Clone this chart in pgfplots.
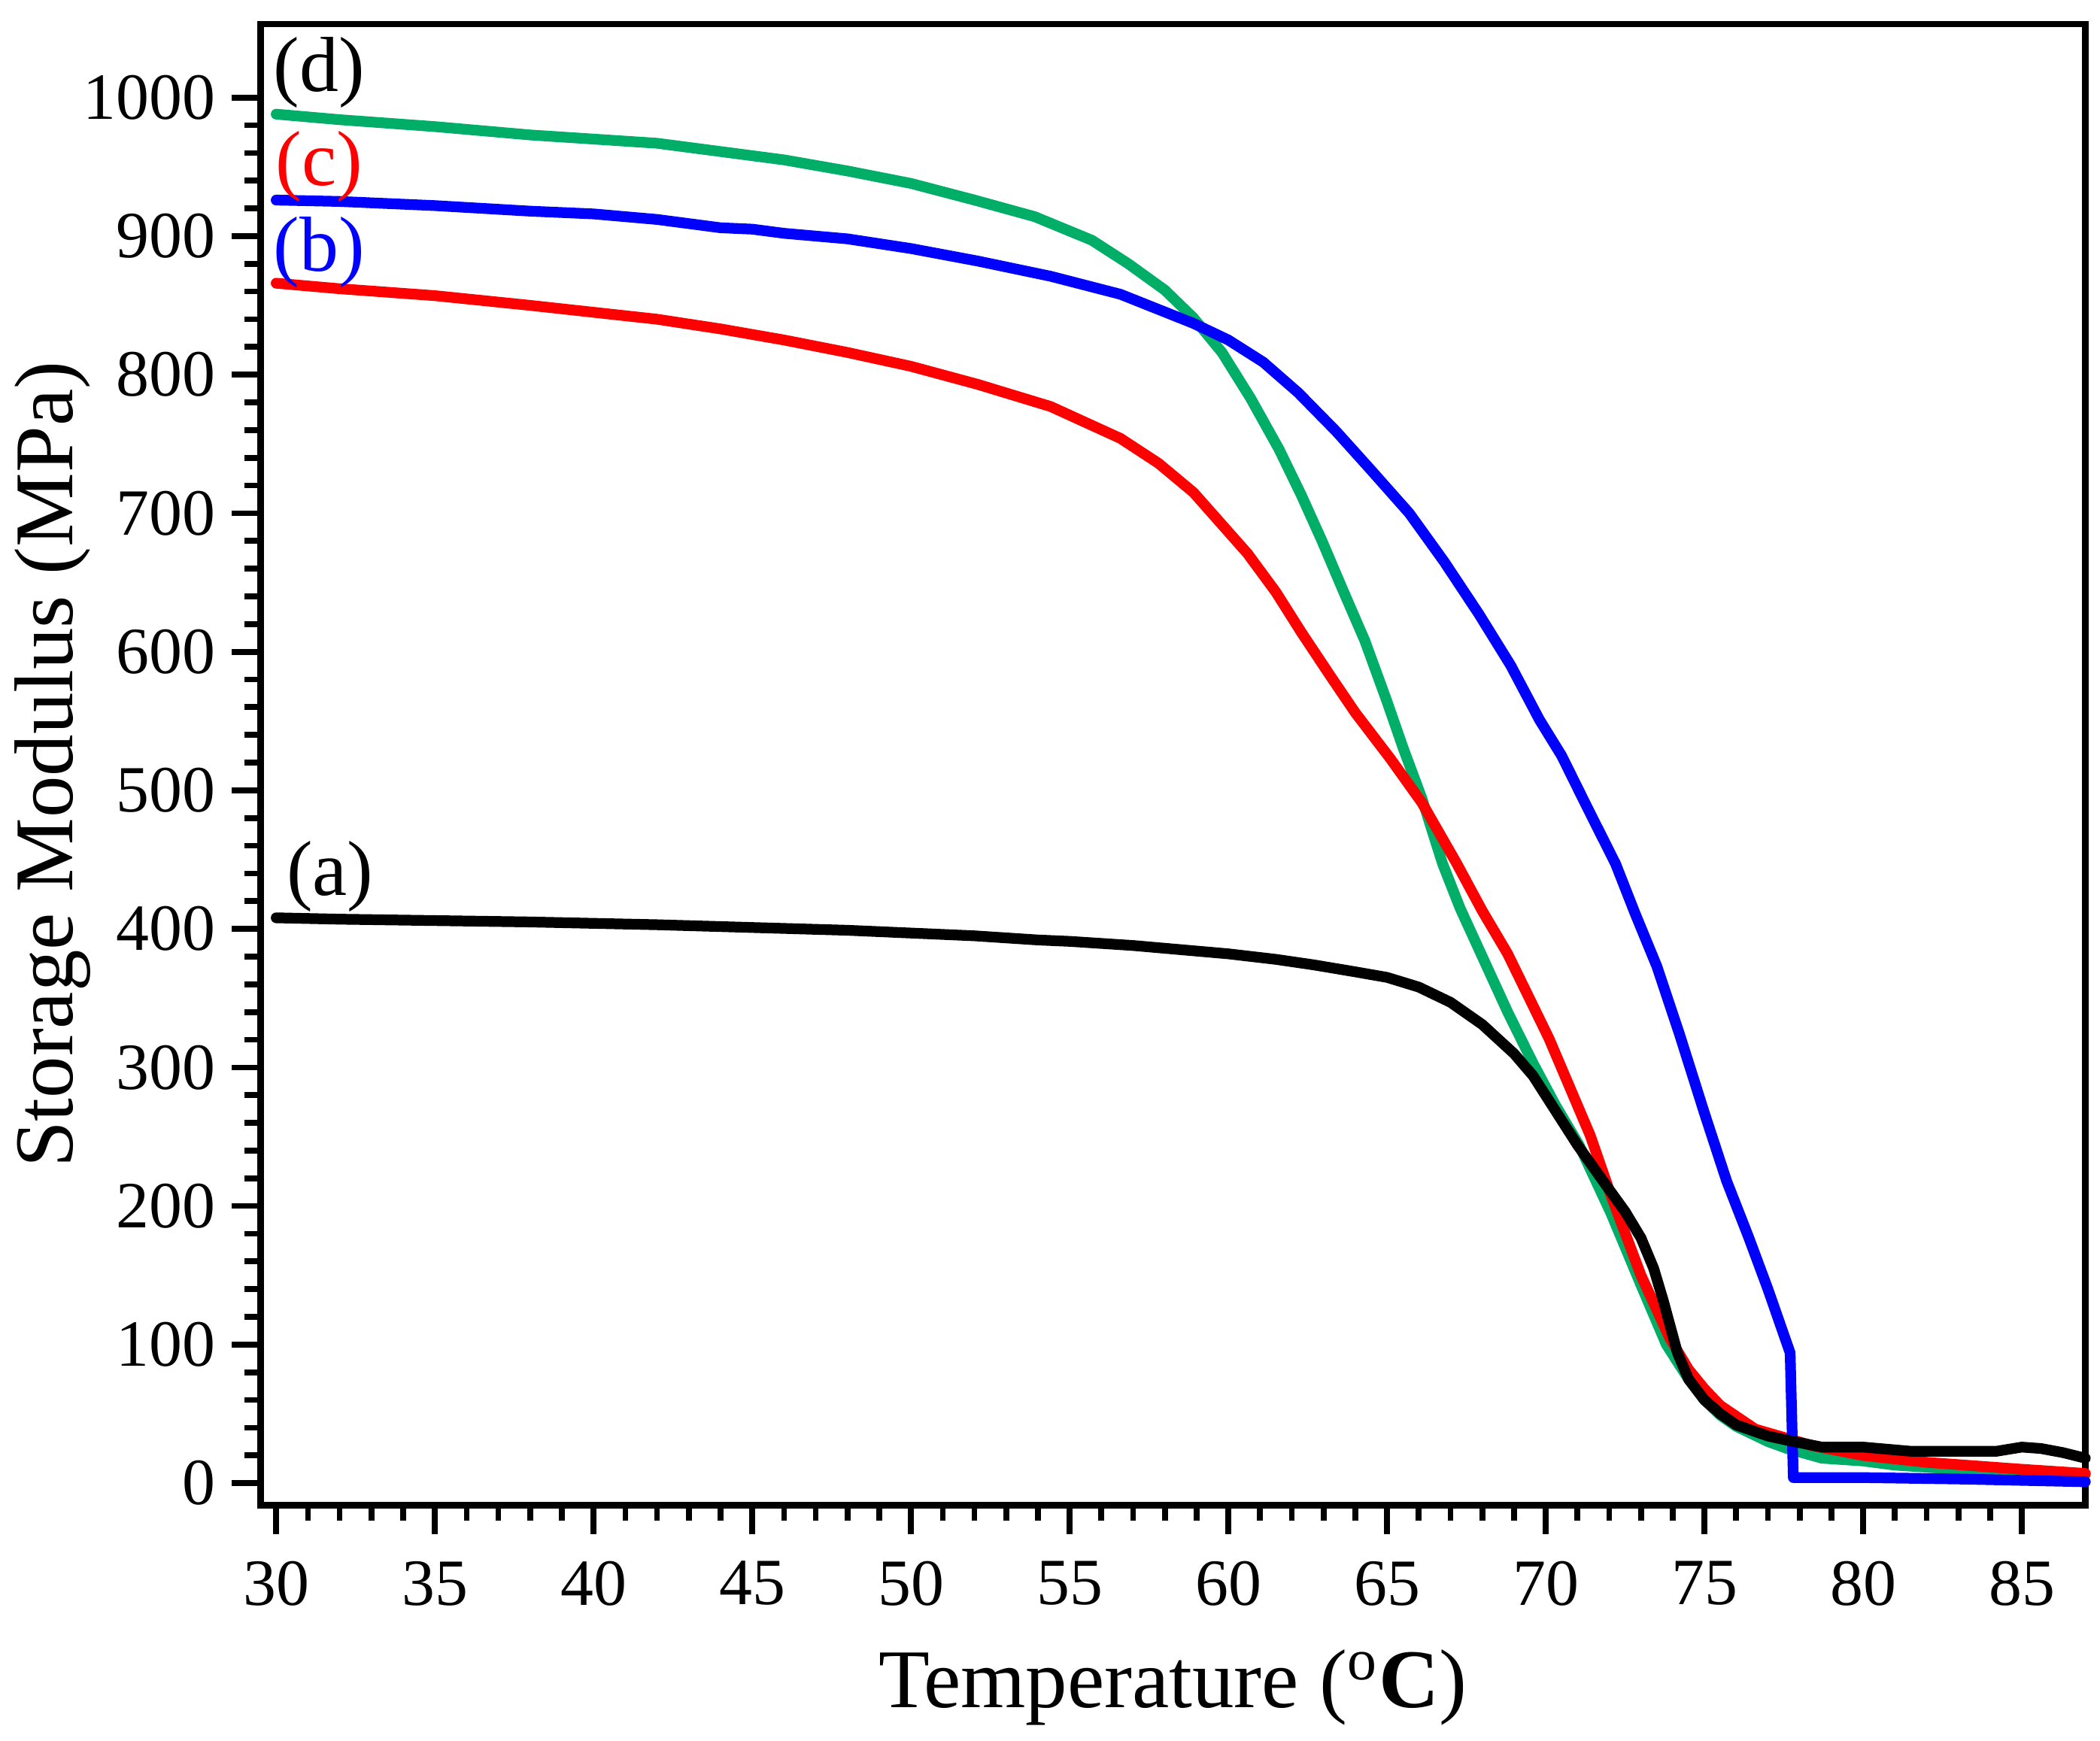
\documentclass[border=0pt]{standalone}
\usepackage{fontspec}
\setmainfont{Liberation Serif}
\usepackage{pgfplots}
\pgfplotsset{compat=1.18}
\definecolor{dgreen}{RGB}{0,174,104}
\definecolor{cred}{RGB}{255,0,0}
\definecolor{bblue}{RGB}{0,0,255}

\begin{document}
\begin{tikzpicture}
  \begin{axis}[
    scale only axis,
    width=409pt, height=332pt,
    xmin=29.5, xmax=87, ymin=-16, ymax=1053,
    xtick={30,35,...,85}, ytick={0,100,...,1000},
    minor x tick num=4, minor y tick num=4,
    tick align=outside, xtick pos=bottom, ytick pos=left,
    major tick length=6.5pt, minor tick length=3.5pt,
    every tick/.style={black, line width=1.3pt},
    axis line style={line width=1.5pt},
    /pgf/number format/assume math mode=true,
    /pgf/number format/1000 sep={},
    tick label style={font=\fontsize{14.8}{15}\selectfont},
    xticklabel style={yshift=-2.5pt},
    label style={font=\fontsize{18.7}{19}\selectfont},
    xlabel={Temperature (\textsuperscript{o}\textbf{C})},
    ylabel={Storage Modulus (MPa)},
    xlabel style={yshift=-3pt},
    ylabel style={yshift=-8.5pt},
    every axis plot/.append style={line width=2.4pt, line join=round, line cap=round},
    clip=false
  ]
    % (d)
    \addplot[dgreen] coordinates {
      (30,988) (32,984) (35,979) (38,973) (40,970) (42,967) (44,961) (46,955)
      (48,947) (50,938) (52,926) (53.9,914) (55.7,897) (56.85,880) (58,861)
      (58.9,841) (59.8,816) (60.7,783) (61.6,746) (62.3,713) (62.95,680)
      (63.6,645) (64.3,608) (65,564) (65.5,531) (66.1,494) (66.75,447)
      (67.3,415) (68,380) (68.8,340) (69.6,303) (70.3,273) (71.05,244)
      (72.05,195) (73,143) (73.8,100) (74.5,75) (75,60) (75.5,49) (76,41)
      (77,30) (77.6,25) (78.7,18) (80,16) (81,13) (83,10) (85,8) (87,6)
    };
    % (c)
    \addplot[cred] coordinates {
      (30,866) (32,862) (35,857) (38,850) (40,845) (42,840) (44,833) (46,825)
      (48,816) (50,806) (52.1,793) (54.4,777) (56.6,754) (57.8,736) (58.9,715)
      (60.6,671) (61.5,643) (62.3,614) (63.2,583) (64,556) (65.1,523)
      (66.1,491) (67.2,447) (68,413) (68.8,382) (70.1,321) (71.4,251)
      (72.05,208) (73,150) (73.9,105) (74.5,82) (75,68) (75.5,56) (76.6,39)
      (78.4,27) (80,20) (82,15) (85,10) (87,7)
    };
    % (b)
    \addplot[bblue] coordinates {
      (30,926) (32,925) (35,922) (38,918) (40,916) (42,912) (44,906) (45,905)
      (46,902) (48,898) (50,891) (52.1,882) (54.4,871) (56.6,858) (58.9,837)
      (60,825) (61.1,809) (62.2,787) (63.4,759) (64.5,731) (65.7,700)
      (66.8,665) (67.9,627) (68.9,590) (69.8,551) (70.5,525) (71.3,488)
      (72.2,447) (72.8,412) (73.5,373) (74.2,325) (75,267) (75.7,218)
      (76.4,177) (77,140) (77.7,94) (77.8,4) (80,4) (83,3) (87,1)
    };
    % (a)
    \addplot[black] coordinates {
      (30,408) (32,407) (35,406) (38,405) (40,404) (42,403) (45,401) (48,399)
      (50,397) (52,395) (54,392) (55,391) (57,388) (58,386) (60,382)
      (61.5,378) (62.7,374) (64,369) (65,365) (66,358) (67,347) (68,331)
      (69,310) (69.6,294) (71,244) (71.9,215) (72.5,196) (73,177) (73.4,155)
      (73.7,132) (74.15,94) (74.5,75) (75,60) (75.5,50) (76,42) (77,34)
      (77.6,31) (78.7,26) (80,26) (80.5,25) (81.5,23) (83,23) (84.2,23)
      (85,26) (85.6,25) (86.3,22) (87,18)
    };
    \node[font=\fontsize{17.5}{18}\selectfont] at (axis cs:31.35,1018) {(d)};
    \node[font=\fontsize{17.5}{18}\selectfont, text=cred] at (axis cs:31.35,950) {(c)};
    \node[font=\fontsize{17.5}{18}\selectfont, text=bblue] at (axis cs:31.35,888) {(b)};
    \node[font=\fontsize{17.5}{18}\selectfont] at (axis cs:31.7,438) {(a)};
  \end{axis}
  \path (current axis.north east) ++(3.3pt,5.4pt) coordinate (ext);
  \path (ext) -- (ext);
  \path (current axis.south west) ++(0,-51pt) coordinate (extb);
  \path (extb) -- (extb);
\end{tikzpicture}
\end{document}
